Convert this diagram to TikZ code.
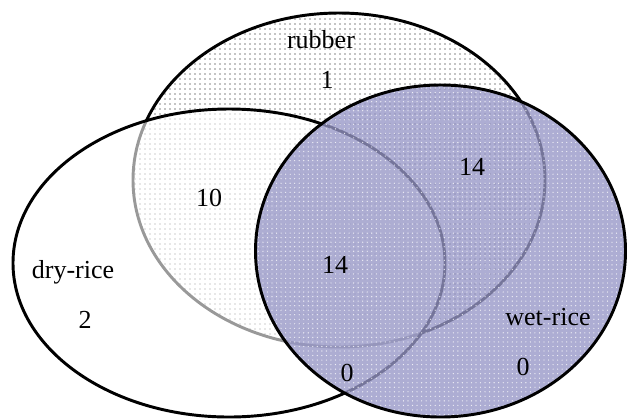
\documentclass[tikz,border=0pt]{standalone}
\usepackage{fontspec}
\setmainfont{Liberation Serif}
\usetikzlibrary{patterns.meta}
\definecolor{wetblue}{RGB}{150,150,198}

\begin{document}
\begin{tikzpicture}[x=0.75pt, y=-0.75pt,
  lbl/.style={font=\fontsize{19.5}{23}\selectfont},
  rim/.style={line width=2.2pt}]
\useasboundingbox (0,0) rectangle (627,419);
% rubber
\fill[pattern={Dots[distance=3.75pt, radius=0.45pt]}, pattern color=black] (339,180) ellipse [x radius=154.5pt, y radius=125.25pt];
\draw[rim] (339,180) ellipse [x radius=154.5pt, y radius=125.25pt];
% dry-rice
\fill[white, fill opacity=0.6] (229,263) ellipse [x radius=162pt, y radius=115.5pt];
\draw[rim] (229,263) ellipse [x radius=162pt, y radius=115.5pt];
% wet-rice
\fill[wetblue, fill opacity=0.78] (440.5,251) ellipse [x radius=138.75pt, y radius=124.5pt];
\fill[pattern={Dots[distance=3.4pt, radius=0.5pt]}, pattern color=white, fill opacity=0.8] (440.5,251) ellipse [x radius=138.75pt, y radius=124.5pt];
\draw[rim] (440.5,251) ellipse [x radius=138.75pt, y radius=124.5pt];

\node[lbl] (rubber) at (321,40) {rubber};
\node[lbl] (rubbercnt) at (327,80) {1};
\node[lbl] (dry) at (73,272) {dry-rice};
\node[lbl] (drycnt) at (85,320) {2};
\node[lbl] (wet) at (548,317) {wet-rice};
\node[lbl] (wetcnt) at (523,367) {0};
\node[lbl] (rubdry) at (209,198) {10};
\node[lbl] (rubwet) at (472,167) {14};
\node[lbl] (all) at (335,265) {14};
\node[lbl] (drywet) at (347,373) {0};
\end{tikzpicture}
\end{document}
